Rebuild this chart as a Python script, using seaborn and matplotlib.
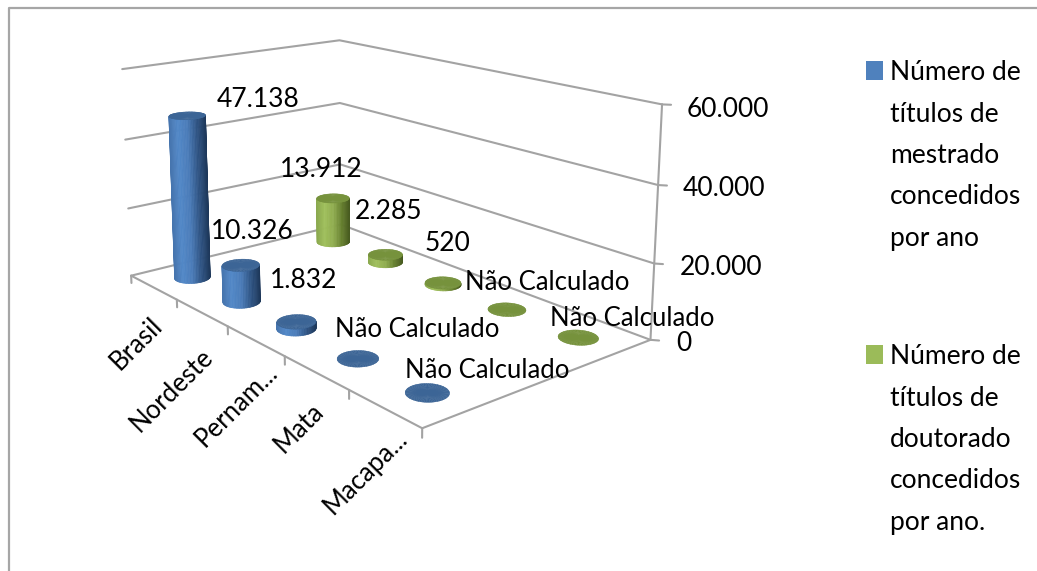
import numpy as np
import matplotlib
matplotlib.use("Agg")
import matplotlib.pyplot as plt
from matplotlib.lines import Line2D
from matplotlib.patches import Rectangle
import seaborn as sns

# ---------- data ----------
categories = ["Brasil", "Nordeste", "Pernam...", "Mata", "Macapa..."]
mestrado = [47138, 10326, 1832, None, None]
doutorado = [13912, 2285, 520, None, None]
z_ticks = [0, 20000, 40000, 60000]
z_tick_labels = ["0", "20.000", "40.000", "60.000"]
legend_mestrado = ["Número de", "títulos de", "mestrado", "concedidos", "por ano"]
legend_doutorado = ["Número de", "títulos de", "doutorado", "concedidos", "por ano."]
missing_label = "Não Calculado"

# ---------- layout (pixels of the reference) ----------
W, H = 1037, 571
label_xy_m = [(258, 97), (252, 229), (304, 278), (417, 327), (487, 368)]
label_xy_d = [(321, 167), (389, 209), (447, 241), (547, 280), (632, 316)]
cat_xy = [(136, 341), (172, 388), (236, 403), (299, 426), (366, 470)]
tick_label_xy = [(684, 341), (721, 265), (724, 186), (728, 107)]
# camera calibration: world (x, y, z) -> reference pixel
calib = [
    (0, 0, 0, 132, 276), (0, 0, 20000, 128, 209), (0, 0, 40000, 125, 139), (0, 0, 60000, 122, 69),
    (0, 1, 0, 340, 225), (0, 1, 20000, 340, 163), (0, 1, 40000, 340, 103), (0, 1, 60000, 340, 41),
    (5, 1, 0, 651, 340), (5, 1, 20000, 654, 263), (5, 1, 40000, 658, 186), (5, 1, 60000, 662, 104),
    (5, 0, 0, 422, 428),
]
series_y = [1 / 6, 5 / 6]
rx, ry = 0.2, 0.066
GRID = "#a3a3a3"

sns.set_theme(style="white")
plt.rcParams["font.family"] = ["Lato", "DejaVu Sans"]
FS = 19

fig = plt.figure(figsize=(W / 100, H / 100), dpi=100, facecolor="white")
ax = fig.add_subplot(projection="3d")
ax.set_position([0, 0, 1, 1])
ax.apply_aspect = lambda position=None: None
ax.set_axis_off()
ax.computed_zorder = False


def fit_camera():
    """Direct linear transform: 3x4 camera from the calibration points."""
    S = np.diag([1 / 5, 1, 1 / 60000, 1])
    rows = []
    for x, y, z, u, v in calib:
        X = np.array([x / 5, y, z / 60000, 1])
        rows.append(np.r_[X, np.zeros(4), -u * X])
        rows.append(np.r_[np.zeros(4), X, -v * X])
    P = np.linalg.svd(np.array(rows))[2][-1].reshape(3, 4)
    if P[2] @ np.array([0.5, 0.5, 0, 1]) < 0:
        P = -P
    return P @ S


P = fit_camera()
vl = ax.viewLim
to_data = np.array([
    [(vl.x1 - vl.x0) / W, 0, vl.x0],
    [0, -(vl.y1 - vl.y0) / H, vl.y1],
    [0, 0, 1],
])
A = to_data @ P
# depth row kept negative everywhere, so mplot3d keeps all points in front of the camera
depth_scale = 0.1 * min(abs(P[2] @ np.array([x, y, z, 1.0])) for x, y, z, _, _ in calib)
M = np.vstack([A[0], A[1], depth_scale * np.array([-0.2, 0.52, -0.5 / 60000, -3.0]), A[2]])
ax.get_proj = lambda: M


def pix(x, y, z):
    h = P @ np.array([x, y, z, 1.0])
    return h[:2] / h[2]


# ---------- walls and axes ----------
def line3(xs, ys, zs, lw=1.5, zorder=1):
    ax.plot(xs, ys, zs, color=GRID, lw=lw, zorder=zorder, solid_capstyle="round")


for t in z_ticks:
    line3([0, 0, 5], [0, 1, 1], [t, t, t])
    line3([5, 5.066], [1, 1.017], [t, t])
line3([0, 5, 5], [0, 0, 1], [0, 0, 0])
line3([5, 5], [1, 1], [0, z_ticks[-1]])
for i in range(len(categories) + 1):
    line3([i, i], [0, 0], [0, -2200])

# ---------- cylinders ----------
blue_side = sns.blend_palette(["#4674ad", "#5288c8", "#4b7cb8", "#2f5484", "#1d3759"], 101)
green_side = sns.blend_palette(["#8aa84e", "#a0c05c", "#90ad50", "#66802f", "#46591f"], 101)
theta = np.linspace(0, 2 * np.pi, 73)


def cylinder(x0, y0, value, side, top, zorder):
    xs = x0 + rx * np.cos(theta)
    ys = y0 + ry * np.sin(theta)
    h = 0 if value is None else value
    if h > 0:
        rim = np.array([pix(a, b, 0) for a, b in zip(xs, ys)])
        # keep only the arc that faces the viewer (below the rim's silhouette)
        i0, i1 = sorted((int(rim[:-1, 0].argmin()), int(rim[:-1, 0].argmax())))
        arc_a = np.arange(i0, i1 + 1)
        arc_b = np.r_[np.arange(i1, len(theta) - 1), np.arange(0, i0 + 1)]
        arc = arc_a if rim[arc_a, 1].mean() > rim[arc_b, 1].mean() else arc_b
        ax_, ay_ = xs[arc], ys[arc]
        sx = rim[arc, 0]
        t = (sx - rim[:, 0].min()) / (rim[:, 0].max() - rim[:, 0].min())
        cols = np.array([side[int(round(v * 100))] for v in 0.5 * (t[:-1] + t[1:])])
        fc = np.ones((1, len(cols), 4))
        fc[0, :, :3] = cols
        ax.plot_surface(np.tile(ax_, (2, 1)), np.tile(ay_, (2, 1)),
                        np.array([np.zeros_like(ax_), np.full_like(ax_, h)]),
                        facecolors=fc, shade=False, rstride=1, cstride=1,
                        linewidth=0.5, zorder=zorder)
    r = np.array([0.0, 1.0])
    ax.plot_surface(x0 + rx * np.outer(r, np.cos(theta)),
                    y0 + ry * np.outer(r, np.sin(theta)),
                    np.full((2, len(theta)), float(h)),
                    color=top, shade=False, rstride=1, cstride=1,
                    linewidth=0.3, edgecolor=top, zorder=zorder + 0.5)


order = 10
for i, v in enumerate(doutorado):
    cylinder(i + 0.5, series_y[1], v, green_side, "#76923c", order)
    order += 1
for i, v in enumerate(mestrado):
    cylinder(i + 0.5, series_y[0], v, blue_side, "#3c6596", order)
    order += 1


# ---------- text ----------
def ptext(px, py, s, dy=2.5, **kw):
    kw.setdefault("ha", "center")
    kw.setdefault("va", "center")
    kw.setdefault("fontsize", FS)
    kw.setdefault("color", "black")
    fig.text(px / W, 1 - (py + dy) / H, s, **kw)


def fmt(v):
    return missing_label if v is None else f"{v:,}".replace(",", ".")


for vals, xy in ((mestrado, label_xy_m), (doutorado, label_xy_d)):
    for v, (px, py) in zip(vals, xy):
        ptext(px, py, fmt(v), fontsize=FS if v is not None else FS - 0.5, zorder=50)
for c, (px, py) in zip(categories, cat_xy):
    ptext(px, py, c, rotation=45, rotation_mode="anchor", fontsize=FS - 0.5)
for s, (px, py) in zip(z_tick_labels, tick_label_xy):
    ptext(px, py, s)

for lines, y0, col in ((legend_mestrado, 70, "#4f81bd"), (legend_doutorado, 354, "#9bbb59")):
    fig.add_artist(Rectangle((866 / W, 1 - (y0 + 10) / H), 17 / W, 19 / H,
                             transform=fig.transFigure, facecolor=col, edgecolor="none"))
    for k, s in enumerate(lines):
        ptext(890, y0 + k * 41.5, s, ha="left")

# chart frame
fig.add_artist(Line2D([9 / W, 9 / W, 1], [0, 1 - 8 / H, 1 - 8 / H], transform=fig.transFigure,
                      color="#a6a6a6", lw=1.6))

fig.savefig("out.png", dpi=100, facecolor="white")
